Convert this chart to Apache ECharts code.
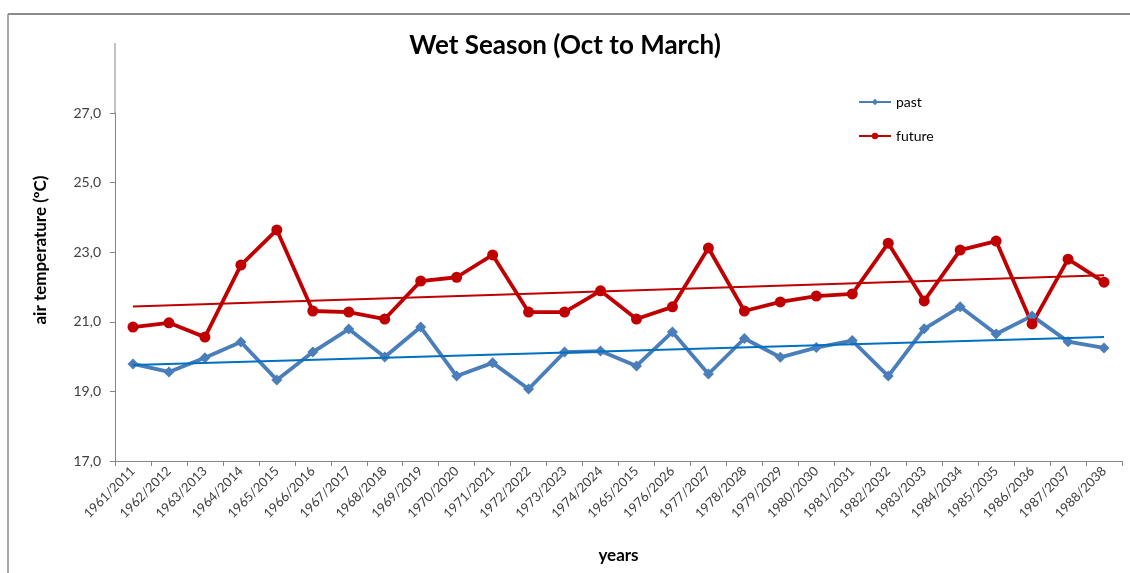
<!DOCTYPE html>
<html>
<head>
<meta charset="utf-8">
<script src="https://cdn.jsdelivr.net/npm/echarts@6/dist/echarts.min.js"></script>
<style>html,body{margin:0;padding:0;background:#fff}#c{width:1130px;height:573px}</style>
</head>
<body>
<div id="c"></div>
<script>
const categories = ["1961/2011","1962/2012","1963/2013","1964/2014","1965/2015","1966/2016","1967/2017","1968/2018","1969/2019","1970/2020","1971/2021","1972/2022","1973/2023","1974/2024","1965/2015","1976/2026","1977/2027","1978/2028","1979/2029","1980/2030","1981/2031","1982/2032","1983/2033","1984/2034","1985/2035","1986/2036","1987/2037","1988/2038"];
const past = [19.79,19.56,19.97,20.42,19.33,20.13,20.79,19.99,20.85,19.44,19.82,19.07,20.13,20.16,19.73,20.71,19.50,20.52,19.98,20.26,20.46,19.44,20.80,21.43,20.65,21.17,20.43,20.25];
const future = [20.85,20.97,20.56,22.63,23.64,21.31,21.28,21.08,22.17,22.28,22.92,21.28,21.28,21.89,21.08,21.43,23.12,21.31,21.57,21.74,21.80,23.26,21.60,23.06,23.32,20.94,22.80,22.14];
const pastTrend = [19.76, 20.56];
const futureTrend = [21.44, 22.34];
const yTicks = {min: 17, max: 27, interval: 2};

const chart = echarts.init(document.getElementById('c'));
const last = categories.length - 1;
const font = 'Lato, "Open Sans", sans-serif';
chart.setOption({
  animation: false,
  backgroundColor: '#fff',
  textStyle: {fontFamily: font},
  title: {
    text: 'Wet Season (Oct to March)', left: 'center', top: 28,
    textStyle: {fontSize: 26, fontWeight: 'bold', color: '#000', fontFamily: font}
  },
  legend: {
    data: ['past', 'future'], orient: 'vertical', left: 853, top: 90,
    itemWidth: 32, itemHeight: 8, itemGap: 20,
    textStyle: {fontSize: 14, color: '#000', fontFamily: font}
  },
  grid: {left: 115, right: 8, top: 113, bottom: 112},
  xAxis: {
    type: 'category', data: categories, boundaryGap: true,
    name: 'years', nameLocation: 'middle', nameGap: 86,
    nameTextStyle: {fontSize: 17, fontWeight: 'bold', color: '#000'},
    axisLine: {lineStyle: {color: '#868686', width: 1}},
    axisTick: {show: true, length: 5, alignWithLabel: false, lineStyle: {color: '#868686'}},
    axisLabel: {rotate: 45, fontSize: 13, color: '#404040', interval: 0, margin: 8}
  },
  yAxis: {
    type: 'value', min: yTicks.min, max: yTicks.max, interval: yTicks.interval,
    name: 'air temperature (ºC)', nameLocation: 'middle', nameGap: 66, nameRotate: 90,
    nameTextStyle: {fontSize: 17, fontWeight: 'bold', color: '#000', padding: [0, 0, 0, 74]},
    axisLine: {show: true, lineStyle: {color: '#868686', width: 1}},
    axisTick: {show: true, length: 5, lineStyle: {color: '#868686'}},
    splitLine: {show: false},
    axisLabel: {fontSize: 14, color: '#404040', margin: 14, formatter: v => v.toFixed(1).replace('.', ',')}
  },
  graphic: [
    {type: 'line', shape: {x1: 115, y1: 43, x2: 115, y2: 113}, style: {stroke: '#868686', lineWidth: 1}, silent: true},
    {type: 'line', shape: {x1: 8, y1: 14, x2: 1130, y2: 14}, style: {stroke: '#8c8c8c', lineWidth: 2}, silent: true},
    {type: 'line', shape: {x1: 8, y1: 14, x2: 8, y2: 573}, style: {stroke: '#8c8c8c', lineWidth: 1.5}, silent: true}
  ],
  series: [
    {
      name: 'past', type: 'line', data: past, symbol: 'diamond', symbolSize: 11,
      itemStyle: {color: '#4a7ebb'}, lineStyle: {color: '#4a7ebb', width: 3.8}, z: 3
    },
    {
      name: 'future', type: 'line', data: future, symbol: 'circle', symbolSize: 11,
      itemStyle: {color: '#c00000'}, lineStyle: {color: '#c00000', width: 3.8}, z: 3
    },
    {
      name: 'past trend', type: 'line', symbol: 'none', z: 4,
      data: [[categories[0], pastTrend[0]], [categories[last], pastTrend[1]]],
      lineStyle: {color: '#0070c0', width: 2}
    },
    {
      name: 'future trend', type: 'line', symbol: 'none', z: 2,
      data: [[categories[0], futureTrend[0]], [categories[last], futureTrend[1]]],
      lineStyle: {color: '#c00000', width: 2}
    }
  ]
});
</script>
</body>
</html>
